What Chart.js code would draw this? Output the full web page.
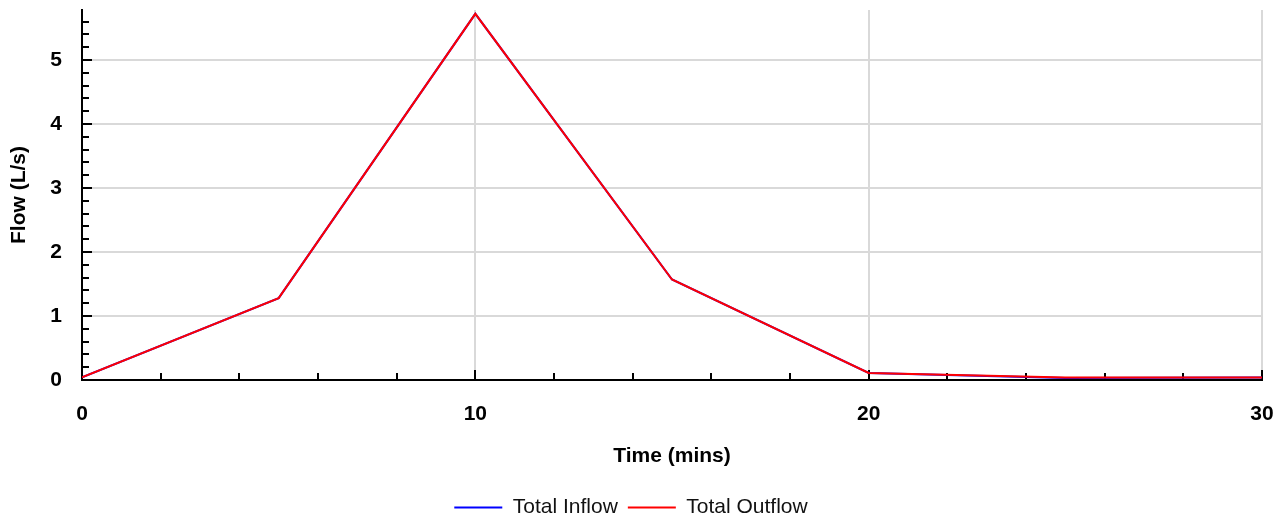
<!DOCTYPE html>
<html>
<head>
<meta charset="utf-8">
<title>Flow</title>
<script src="https://cdn.jsdelivr.net/npm/chart.js@4.4.1/dist/chart.umd.min.js"></script>
<style>
  html, body { margin: 0; padding: 0; background: #fff; }
  #caixa { width: 1287px; height: 520px; }
</style>
</head>
<body>
<div id="caixa"><canvas id="grafico" width="1287" height="520"></canvas></div>
<script>
const tempo = [0, 5, 10, 15, 20, 25, 30];
const vazaoEntrada = [0.04, 1.28, 5.72, 1.57, 0.11, 0.03, 0.04];
const vazaoSaida = [0.04, 1.28, 5.72, 1.57, 0.11, 0.04, 0.04];

const ticksX = [0, 10, 20, 30];
const ticksY = [0, 1, 2, 3, 4, 5];
// marcas menores dos eixos
const marcasX = [2, 4, 6, 8, 12, 14, 16, 18, 22, 24, 26, 28];
const marcasY = [0.2, 0.4, 0.6, 0.8, 1.2, 1.4, 1.6, 1.8, 2.2, 2.4, 2.6, 2.8,
                 3.2, 3.4, 3.6, 3.8, 4.2, 4.4, 4.6, 4.8, 5.2, 5.4, 5.6];

const fonte = "'Liberation Sans', Arial, sans-serif";
const cinza = "#d9d9d9";

// desenha os tracinhos para dentro da area do grafico
const marcasEixos = {
    id: "marcasEixos",
    beforeDatasetsDraw(chart) {
        const { ctx, chartArea, scales: { x, y } } = chart;
        ctx.save();
        ctx.strokeStyle = "#000";
        ctx.lineWidth = 2;
        ctx.beginPath();
        marcasX.forEach(v => {
            const px = Math.round(x.getPixelForValue(v));
            ctx.moveTo(px, chartArea.bottom);
            ctx.lineTo(px, chartArea.bottom - 7);
        });
        ticksX.slice(1).forEach(v => {
            const px = Math.round(x.getPixelForValue(v));
            ctx.moveTo(px, chartArea.bottom);
            ctx.lineTo(px, chartArea.bottom - 10);
        });
        marcasY.forEach(v => {
            const py = Math.round(y.getPixelForValue(v));
            ctx.moveTo(chartArea.left, py);
            ctx.lineTo(chartArea.left + 7, py);
        });
        ticksY.slice(1).forEach(v => {
            const py = Math.round(y.getPixelForValue(v));
            ctx.moveTo(chartArea.left, py);
            ctx.lineTo(chartArea.left + 10, py);
        });
        ctx.stroke();
        ctx.restore();
    }
};

const pontos = serie => tempo.map((t, i) => ({ x: t, y: serie[i] }));

const ctx = document.getElementById("grafico").getContext("2d");
const grafico = new Chart(ctx, {
    type: "line",
    data: {
        datasets: [{
            label: "Total Inflow",
            data: pontos(vazaoEntrada),
            borderColor: "#0000ff",
            backgroundColor: "#0000ff",
            borderWidth: 2,
            pointRadius: 0,
            order: 1
        }, {
            label: "Total Outflow",
            data: pontos(vazaoSaida),
            borderColor: "#ff0000",
            backgroundColor: "#ff0000",
            borderWidth: 2,
            pointRadius: 0,
            order: 0
        }]
    },
    plugins: [marcasEixos],
    options: {
        responsive: false,
        animation: false,
        layout: { padding: { top: 10, right: 25, bottom: -8, left: 0 } },
        plugins: {
            tooltip: { enabled: false },
            legend: {
                position: "bottom",
                labels: {
                    usePointStyle: true,
                    pointStyle: "line",
                    pointStyleWidth: 48,
                    padding: 10,
                    color: "#111",
                    font: { family: fonte, size: 21 },
                    sort: (a, b) => a.datasetIndex - b.datasetIndex
                }
            }
        },
        scales: {
            x: {
                type: "linear",
                min: 0,
                max: 30,
                afterBuildTicks: s => { s.ticks = ticksX.map(v => ({ value: v })); },
                afterFit: s => {
                    s.height = 107;
                    s.paddingLeft = 0;
                    s.paddingRight = 0;
                },
                grid: {
                    color: c => c.tick && c.tick.value === 0 ? "transparent" : cinza,
                    lineWidth: 2,
                    drawTicks: false
                },
                border: { color: "#000", width: 2 },
                ticks: {
                    color: "#000",
                    padding: 22,
                    maxRotation: 0,
                    font: { family: fonte, size: 21, weight: "bold" }
                },
                title: {
                    display: true,
                    text: "Time (mins)",
                    color: "#000",
                    padding: { top: 0, bottom: 18 },
                    font: { family: fonte, size: 21, weight: "bold" }
                }
            },
            y: {
                min: 0,
                max: 5.78,
                afterBuildTicks: s => { s.ticks = ticksY.map(v => ({ value: v })); },
                afterFit: s => {
                    s.width = 82;
                    s.paddingTop = 0;
                    s.paddingBottom = 0;
                },
                grid: {
                    color: c => c.tick && c.tick.value === 0 ? "transparent" : cinza,
                    lineWidth: 2,
                    drawTicks: false
                },
                border: { color: "#000", width: 2 },
                ticks: {
                    color: "#000",
                    padding: 20,
                    font: { family: fonte, size: 21, weight: "bold" }
                },
                title: {
                    display: true,
                    text: "Flow (L/s)",
                    color: "#000",
                    padding: { top: 7, bottom: 0 },
                    font: { family: fonte, size: 21, weight: "bold" }
                }
            }
        }
    }
});
</script>
</body>
</html>
